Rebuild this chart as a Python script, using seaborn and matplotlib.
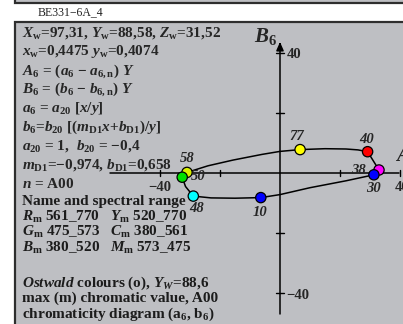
import matplotlib
matplotlib.use("Agg")
import matplotlib.pyplot as plt
from matplotlib.patches import Rectangle
import seaborn as sns
import pandas as pd

# ---- data -------------------------------------------------------------
# closed colour loop in the (A6, B6) plane
loop_a = [-31.0, -24.0, -15.7, -6.0, 0.0, 6.7, 15.0, 22.0, 26.0, 29.2,
          33.0, 31.3, 22.0, 10.0, 0.0, -6.4, -15.0, -23.0, -28.9,
          -31.5, -32.6, -31.0]
loop_b = [0.2, 2.4, 4.3, 6.2, 7.2, 7.8, 8.1, 8.0, 7.7, 7.1,
          1.0, -0.6, -2.6, -4.9, -7.2, -8.2, -8.4, -8.3, -7.7,
          -4.5, -1.4, 0.2]

# Ostwald colours (o) with hue labels
pt_label = ["58", "77", "40", "38", "30", "10", "48", "50"]
pt_a = [-31.0, 6.7, 29.2, 33.0, 31.3, -6.4, -28.9, -32.6]
pt_b = [0.2, 7.8, 7.1, 1.0, -0.6, -8.2, -7.7, -1.4]
pt_color = ["#d8f000", "#ffff00", "#ff0000", "#ff00ff", "#0000ff",
            "#0000ff", "#00ffff", "#00e000"]

axis_ticks = [-40, -20, 20, 40]
axis_ticklabels = {-40: "\u221240", 40: "40"}

info_lines = [
    r"$X_\mathrm{w}$=97,31, $Y_\mathrm{w}$=88,58, $Z_\mathrm{w}$=31,52",
    r"$x_\mathrm{w}$=0,4475 $y_\mathrm{w}$=0,4074",
    r"$A_\mathrm{6}$ = ($a_\mathrm{6}$ − $a_\mathrm{6,n}$) $Y$",
    r"$B_\mathrm{6}$ = ($b_\mathrm{6}$ − $b_\mathrm{6,n}$) $Y$",
    r"$a_\mathrm{6}$ = $a_\mathrm{20}$ [$x/y$]",
    r"$b_\mathrm{6}$=$b_\mathrm{20}$ [($m_\mathrm{D1}x$+$b_\mathrm{D1}$)/$y$]",
    r"$a_\mathrm{20}$ = 1,  $b_\mathrm{20}$ = −0,4",
    r"$m_\mathrm{D1}$=−0,974, $b_\mathrm{D1}$=0,658",
    r"$n$ = A00",
]
range_lines = [
    "Name and spectral range",
    r"$R_\mathrm{m}$ $\mathit{561\_770}$   $Y_\mathrm{m}$ $\mathit{520\_770}$",
    r"$G_\mathrm{m}$ $\mathit{475\_573}$   $C_\mathrm{m}$ $\mathit{380\_561}$",
    r"$B_\mathrm{m}$ $\mathit{380\_520}$   $M_\mathrm{m}$ $\mathit{573\_475}$",
]
footer_lines = [
    r"$Ostwald$ colours (o), $Y_W$=88,6",
    "max (m) chromatic value, A00",
    r"chromaticity diagram (a$_\mathrm{6}$, b$_\mathrm{6}$)",
]

# ---- styling ----------------------------------------------------------
sns.set_style("white")
plt.rcParams["font.family"] = ["Liberation Serif", "DejaVu Serif"]
plt.rcParams["font.weight"] = "bold"
plt.rcParams["mathtext.fontset"] = "custom"
plt.rcParams["mathtext.rm"] = "Liberation Serif:bold"
plt.rcParams["mathtext.bf"] = "Liberation Serif:bold"
plt.rcParams["mathtext.it"] = "Liberation Serif:italic:bold"

W, H = 403, 324
fig = plt.figure(figsize=(W / 100, H / 100), dpi=100)
fig.patch.set_facecolor("white")


def fx(x):
    return x / W


def fy(y):
    return 1 - y / H


# axes in data units: 3 px per unit, origin at pixel (280, 173)
ax = fig.add_axes([0, 0, 1, 1])
ax.patch.set_alpha(0)

PANEL = "#bebfc3"
EDGE = "#2e2e2e"
# strip of the panel above, and this panel
ax.add_patch(Rectangle((fx(15), fy(3)), 1, 1, transform=fig.transFigure,
                       facecolor=PANEL, edgecolor=EDGE, lw=1.6, zorder=0,
                       clip_on=False))
ax.add_patch(Rectangle((fx(15), fy(324) - 0.1), 1, fy(22) - fy(324) + 0.1,
                       transform=fig.transFigure, facecolor=PANEL,
                       edgecolor=EDGE, lw=1.6, zorder=0, clip_on=False))
fig.text(fx(38), fy(12), "BE331\u22126A_4", fontsize=8.5, fontweight="normal",
         va="center", ha="left", color="#222222")

axc = "black"
ax.plot([-56.7, 39.5], [0, 0], color=axc, lw=1.1, zorder=2)
ax.plot([0, 0], [-47.0, 43.0], color=axc, lw=1.1, zorder=2)
ax.annotate("", xy=(41.2, 0), xytext=(38.5, 0),
            arrowprops=dict(arrowstyle="-|>,head_length=0.5,head_width=0.22",
                            color=axc, lw=1.1), zorder=2)
ax.annotate("", xy=(0, 44.6), xytext=(0, 41.5),
            arrowprops=dict(arrowstyle="-|>,head_length=0.5,head_width=0.22",
                            color=axc, lw=1.1), zorder=2)
for t in axis_ticks:
    ax.plot([t, t], [-1.1, 1.1], color=axc, lw=1.0, zorder=2)
    ax.plot([-1.2, 1.2], [t, t], color=axc, lw=1.0, zorder=2)
tick_fs = 10.5
ax.text(-40, -4.8, axis_ticklabels[-40], fontsize=tick_fs, ha="center", va="center")
ax.text(38.2, -4.8, axis_ticklabels[40], fontsize=tick_fs, ha="left", va="center")
ax.text(2.2, 39.4, axis_ticklabels[40], fontsize=tick_fs, ha="left", va="center")
ax.text(2.2, -40.8, axis_ticklabels[-40], fontsize=tick_fs, ha="left", va="center")
ax.text(-8.5, 45.5, r"$B_\mathrm{6}$", fontsize=15, ha="left", va="center")
ax.text(38.3, 6.0, r"$A_\mathrm{6}$", fontsize=15, ha="left", va="center")

# colour loop and points
loop = pd.DataFrame({"A": loop_a, "B": loop_b})
sns.lineplot(data=loop, x="A", y="B", sort=False, estimator=None,
             color="black", lw=1.1, ax=ax, zorder=3)
pts = pd.DataFrame({"A": pt_a, "B": pt_b, "label": pt_label})
sns.scatterplot(data=pts, x="A", y="B", hue="label", palette=pt_color,
                s=55, edgecolor="black", linewidth=0.9, legend=False,
                ax=ax, zorder=4)
ax.set_xlim(-280 / 3, (W - 280) / 3)
ax.set_ylim((173 - H) / 3, 173 / 3)
ax.axis("off")

label_offset = {"58": (0.0, 4.6), "77": (-1.0, 4.2), "40": (-0.2, 4.2),
                "38": (-7.0, -0.3), "30": (0.0, -4.7), "10": (-0.3, -4.8),
                "48": (1.0, -4.0), "50": (5.3, 0.4)}
for lab, a, b in zip(pt_label, pt_a, pt_b):
    dx, dy = label_offset[lab]
    ax.text(a + dx, b + dy, lab, fontsize=10.5, style="italic",
            ha="center", va="center", zorder=5)

# text block on the left
fs = 11
for i, s in enumerate(info_lines):
    fig.text(fx(22), fy(33 + 18.9 * i), s, fontsize=fs, ha="left", va="center")
for i, s in enumerate(range_lines):
    fig.text(fx(22), fy(201 + 15.5 * i), s, fontsize=fs, ha="left", va="center",
             color="#1c1c1c")
for i, s in enumerate(footer_lines):
    fig.text(fx(22), fy(283 + 15.5 * i), s, fontsize=fs, ha="left", va="center",
             color="#1c1c1c")

fig.savefig("out.png", dpi=100, facecolor="white")
